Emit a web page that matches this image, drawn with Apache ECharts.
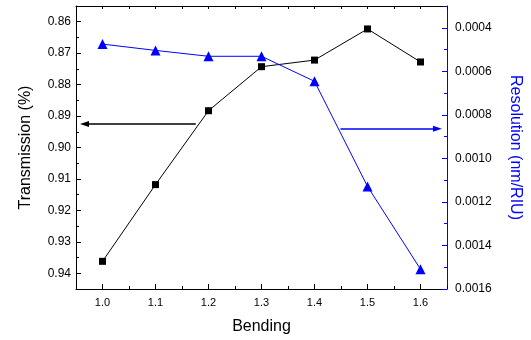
<!DOCTYPE html>
<html><head><meta charset="utf-8">
<script src="https://cdn.jsdelivr.net/npm/echarts@6/dist/echarts.min.js"></script>
<style>html,body{margin:0;padding:0;background:#fff}#c{width:531px;height:340px}</style>
</head><body><div id="c"></div>
<script>
var bending = [1.0, 1.1, 1.2, 1.3, 1.4, 1.5, 1.6];
var transmission = [0.9362, 0.9118, 0.8883, 0.8743, 0.8722, 0.8623, 0.8728];
var resolution = [0.000475, 0.000504, 0.000531, 0.000531, 0.000646, 0.001129, 0.001509];
var xTicks = [1.0, 1.1, 1.2, 1.3, 1.4, 1.5, 1.6];
var xMinorTicks = [0.95, 1.05, 1.15, 1.25, 1.35, 1.45, 1.55, 1.65];
var leftTicks = [0.86, 0.87, 0.88, 0.89, 0.90, 0.91, 0.92, 0.93, 0.94];
var leftMinorTicks = [0.855, 0.865, 0.875, 0.885, 0.895, 0.905, 0.915, 0.925, 0.935, 0.945];
var rightTicks = [0.0004, 0.0006, 0.0008, 0.0010, 0.0012, 0.0014, 0.0016];
var rightMinorTicks = [0.0003, 0.0005, 0.0007, 0.0009, 0.0011, 0.0013, 0.0015];
var blackArrow = [[1.176, 0.8925], [0.966, 0.8925]];
var blueArrow = [[1.449, 0.000864], [1.632, 0.000864]];

var FONT = 'Liberation Sans';
var BLUE = '#0000ff';
var chart = echarts.init(document.getElementById('c'));
var gridAx = {min: 0.95, max: 1.65, type: 'value', splitLine: {show: false}};
function xAx(extra) { return Object.assign({}, gridAx, extra); }
chart.setOption({
  animation: false,
  grid: {left: 76, right: 80, top: 6, bottom: 49},
  xAxis: [
    xAx({position: 'bottom', name: 'Bending', nameLocation: 'middle', nameGap: 30,
      nameTextStyle: {fontFamily: FONT, fontSize: 16, color: '#000'},
      axisLine: {onZero: false, lineStyle: {color: '#000', width: 1}},
      axisTick: {inside: true, length: 5, customValues: xTicks, lineStyle: {color: '#000'}},
      axisLabel: {customValues: xTicks, margin: 8, fontFamily: FONT, fontSize: 11, color: '#000',
        formatter: function (v) { return v.toFixed(1); }}}),
    xAx({position: 'bottom', axisLine: {show: false, onZero: false},
      axisTick: {inside: true, length: 3, customValues: xMinorTicks, lineStyle: {color: '#000'}},
      axisLabel: {show: false}}),
    xAx({position: 'top', axisLine: {onZero: false, lineStyle: {color: '#000'}},
      axisTick: {inside: true, length: 3, customValues: xMinorTicks.concat(xTicks), lineStyle: {color: '#000'}},
      axisLabel: {show: false}})
  ],
  yAxis: [
    {type: 'value', position: 'left', inverse: true, min: 0.855, max: 0.945, splitLine: {show: false},
      name: 'Transmission (%)', nameLocation: 'middle', nameGap: 42, nameRotate: 90,
      nameTextStyle: {fontFamily: FONT, fontSize: 16, color: '#000'},
      axisLine: {show: true, onZero: false, lineStyle: {color: '#000'}},
      axisTick: {inside: true, length: 5, customValues: leftTicks, lineStyle: {color: '#000'}},
      axisLabel: {customValues: leftTicks, margin: 5, fontFamily: FONT, fontSize: 12, color: '#000',
        formatter: function (v) { return v.toFixed(2); }}},
    {type: 'value', position: 'right', inverse: true, min: 0.0003, max: 0.0016, splitLine: {show: false},
      name: 'Resolution (nm/RIU)', nameLocation: 'middle', nameGap: 60, nameRotate: -90,
      nameTextStyle: {fontFamily: FONT, fontSize: 16, color: BLUE},
      axisLine: {show: true, onZero: false, lineStyle: {color: BLUE}},
      axisTick: {inside: true, length: 5, customValues: rightTicks, lineStyle: {color: BLUE}},
      axisLabel: {customValues: rightTicks, margin: 8, fontFamily: FONT, fontSize: 12, color: '#000',
        formatter: function (v) { return v.toFixed(4); }}},
    {type: 'value', position: 'left', inverse: true, min: 0.855, max: 0.945, splitLine: {show: false},
      axisLine: {show: false, onZero: false},
      axisTick: {inside: true, length: 3, customValues: leftMinorTicks, lineStyle: {color: '#000'}},
      axisLabel: {show: false}},
    {type: 'value', position: 'right', inverse: true, min: 0.0003, max: 0.0016, splitLine: {show: false},
      axisLine: {show: false, onZero: false},
      axisTick: {inside: true, length: 3, customValues: rightMinorTicks, lineStyle: {color: BLUE}},
      axisLabel: {show: false}}
  ],
  series: [
    {type: 'line', xAxisIndex: 0, yAxisIndex: 0,
      data: bending.map(function (b, i) { return [b, transmission[i]]; }),
      symbol: 'rect', symbolSize: 7, lineStyle: {color: '#000', width: 1},
      itemStyle: {color: '#000'},
      markLine: {silent: true, symbol: ['none', 'triangle'], symbolSize: [6, 9], label: {show: false},
        lineStyle: {color: '#000', width: 1.5, type: 'solid'},
        data: [[{coord: blackArrow[0]}, {coord: blackArrow[1]}]]}},
    {type: 'line', xAxisIndex: 0, yAxisIndex: 1,
      data: bending.map(function (b, i) { return [b, resolution[i]]; }),
      symbol: 'triangle', symbolSize: 10, lineStyle: {color: BLUE, width: 1},
      itemStyle: {color: BLUE},
      markLine: {silent: true, symbol: ['none', 'triangle'], symbolSize: [6, 9], label: {show: false},
        lineStyle: {color: BLUE, width: 1.5, type: 'solid'},
        data: [[{coord: blueArrow[0]}, {coord: blueArrow[1]}]]}}
  ]
});
</script></body></html>
